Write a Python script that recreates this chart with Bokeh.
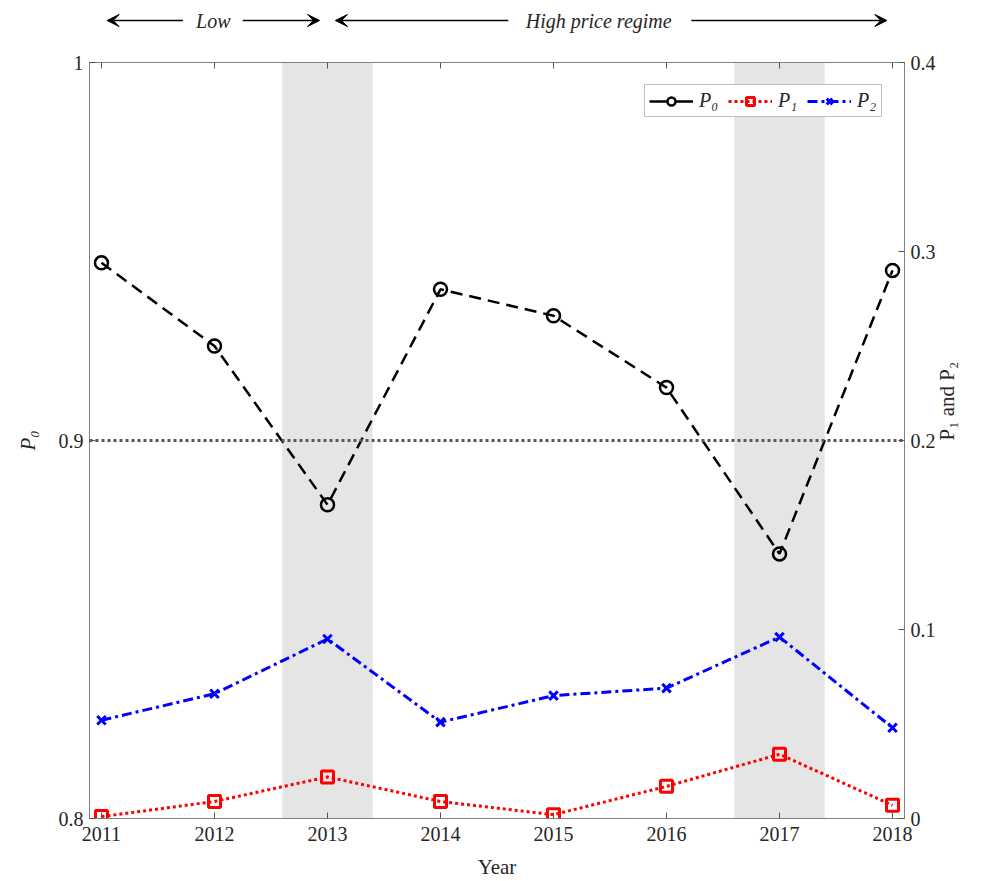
import math
from bokeh.plotting import figure
from bokeh.layouts import column
from bokeh.models import (Range1d, LinearAxis, FixedTicker, BoxAnnotation, Span,
                          Arrow, VeeHead, Label, Legend, LegendItem)
from bokeh.embed import file_html
from bokeh.resources import INLINE

# ---------------- data ----------------
years = [2011, 2012, 2013, 2014, 2015, 2016, 2017, 2018]
p0 = [0.947, 0.925, 0.883, 0.940, 0.933, 0.914, 0.870, 0.945]
p1 = [0.001, 0.009, 0.022, 0.009, 0.002, 0.017, 0.034, 0.007]
p2 = [0.052, 0.066, 0.095, 0.051, 0.065, 0.069, 0.096, 0.048]
left_ticks = [0.8, 0.9, 1.0]
right_ticks = [0.0, 0.1, 0.2, 0.3, 0.4]
shaded_years = [2013, 2017]
threshold = 0.9
# (text, left head, left tail, right tail, right head, text centre)
regimes = [("Low", 2011.05, 2011.72, 2012.25, 2012.93, 2011.99),
           ("High price regime", 2013.07, 2014.60, 2016.22, 2017.95, 2015.40)]

FONT = "Liberation Serif"
TXT = "#262626"
AX = "#808080"
FW, FH = 815, 756
BL, BR = 89, 78

x_range = Range1d(2010.894, 2018.106)

# ---------------- top strip with regime arrows ----------------
top = figure(frame_width=FW, frame_height=50, min_border_left=BL, min_border_right=BR,
             min_border_top=0, min_border_bottom=0, x_range=x_range,
             y_range=Range1d(0, 1), x_axis_location=None, y_axis_location=None,
             output_backend="svg", toolbar_location=None)
top.outline_line_color = None
top.xgrid.visible = False
top.ygrid.visible = False
ytop = 0.6
for text, a_head, a_tail, b_tail, b_head, xc in regimes:
    top.add_layout(Arrow(end=VeeHead(size=12, fill_color="black", line_color="black"),
                         x_start=a_tail, y_start=ytop, x_end=a_head, y_end=ytop,
                         line_color="black", line_width=1.3))
    top.add_layout(Arrow(end=VeeHead(size=12, fill_color="black", line_color="black"),
                         x_start=b_tail, y_start=ytop, x_end=b_head, y_end=ytop,
                         line_color="black", line_width=1.3))
    top.add_layout(Label(x=xc, y=ytop, text=text, text_align="center",
                         text_baseline="middle", text_font=FONT,
                         text_font_style="italic", text_font_size="20px",
                         text_color=TXT))

# ---------------- main plot ----------------
p = figure(frame_width=FW, frame_height=FH, output_backend="svg", toolbar_location=None,
           x_range=x_range, y_range=Range1d(0.8, 1.0),
           min_border_left=BL, min_border_right=BR, min_border_top=12,
           min_border_bottom=63)
p.extra_y_ranges = {"right": Range1d(0.0, 0.4)}
p.xgrid.visible = False
p.ygrid.visible = False
p.outline_line_color = AX


def style_axis(ax):
    ax.axis_line_color = AX
    ax.major_tick_line_color = "#555555"
    ax.major_tick_in = 6
    ax.major_tick_out = 0
    ax.minor_tick_line_color = None
    ax.major_label_text_font = FONT
    ax.major_label_text_font_size = "20px"
    ax.major_label_text_color = TXT
    ax.axis_label_text_font = FONT
    ax.axis_label_text_font_size = "21px"
    ax.axis_label_text_color = TXT
    ax.axis_label_text_font_style = "normal"


xa = p.xaxis[0]
xa.ticker = FixedTicker(ticks=years)
style_axis(xa)
xa.major_label_standoff = 8
xa.axis_label = "Year"
xa.axis_label_standoff = 11

ya = p.yaxis[0]
ya.ticker = FixedTicker(ticks=left_ticks)
ya.major_label_overrides = {1: "1"}
style_axis(ya)
ya.major_label_standoff = 6
ya.axis_label = "P₀"
ya.axis_label_text_font_style = "italic"
ya.axis_label_standoff = 16

ra = LinearAxis(y_range_name="right", ticker=FixedTicker(ticks=right_ticks))
ra.major_label_overrides = {0: "0"}
style_axis(ra)
ra.major_label_standoff = 6
ra.axis_label = "P₁ and P₂"
ra.axis_label_orientation = math.pi / 2
ra.axis_label_standoff = 8
p.add_layout(ra, "right")

ta = LinearAxis(ticker=FixedTicker(ticks=years))
style_axis(ta)
ta.major_label_text_color = None
ta.major_label_text_font_size = "1px"
ta.major_label_standoff = 0
p.add_layout(ta, "above")

# shaded years
for yr in shaded_years:
    p.add_layout(BoxAnnotation(left=yr - 0.4, right=yr + 0.4, fill_color="#e5e5e5",
                               fill_alpha=1.0, line_color=None, level="underlay"))

# threshold line
p.add_layout(Span(location=threshold, dimension="width", line_color="#595959",
                  line_dash="3 3", line_width=3))

# series
l0 = p.line(years, p0, line_color="black", line_width=2.5, line_dash="12 7")
m0 = p.scatter(years, p0, marker="circle", size=13, line_color="black",
               line_width=2.5, fill_color=None)
l1 = p.line(years, p1, y_range_name="right", line_color="red", line_width=3,
            line_dash="3 3")
m1 = p.scatter(years, p1, y_range_name="right", marker="square", size=12,
               line_color="red", line_width=3, fill_color=None)
l2 = p.line(years, p2, y_range_name="right", line_color="blue", line_width=3,
            line_dash="10 4 3 4")
m2 = p.scatter(years, p2, y_range_name="right", marker="x", size=12,
               line_color="blue", line_width=3)

# legend-only renderers for P0 (solid line in legend)
nan = float("nan")
lg0 = p.line([nan], [nan], line_color="black", line_width=2.5)
lgm0 = p.scatter([nan], [nan], marker="circle", size=11, line_color="black",
                 line_width=2.5, fill_color="white")

legend = Legend(items=[LegendItem(label="P₀", renderers=[lg0, lgm0]),
                       LegendItem(label="P₁", renderers=[l1, m1]),
                       LegendItem(label="P₂", renderers=[l2, m2])],
                orientation="horizontal", location="top_right")
legend.label_text_font = FONT
legend.label_text_font_style = "italic"
legend.label_text_font_size = "20px"
legend.label_text_color = TXT
legend.border_line_color = AX
legend.border_line_width = 1
legend.background_fill_alpha = 1.0
legend.glyph_width = 44
legend.glyph_height = 20
legend.label_standoff = 6
legend.spacing = 9
legend.padding = 4
legend.margin = 22
p.add_layout(legend)

layout = column(top, p, spacing=0)
open("out.html", "w").write(file_html(layout, INLINE))
